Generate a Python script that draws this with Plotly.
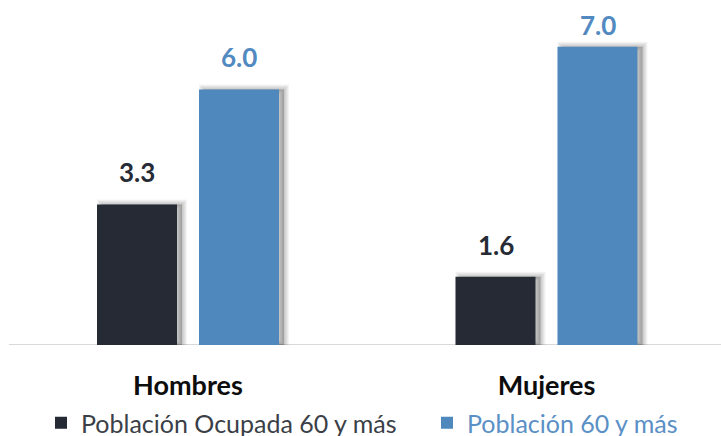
import plotly.graph_objects as go

categories = ["Hombres", "Mujeres"]
ocupada = [3.3, 1.6]
poblacion = [6.0, 7.0]
series_names = ["Población Ocupada 60 y más", "Población 60 y más"]

DARK = "#252a35"
BLUE = "#4f88bd"
FONT = "Lato"

W, H = 721, 436
PX_PER_CAT = 358.5          # pixels between category centers
BAR_W = 80 / PX_PER_CAT
OFF_DARK = -91 / PX_PER_CAT
OFF_BLUE = 11 / PX_PER_CAT
SH_DX = 5 / PX_PER_CAT

fig = go.Figure()

# soft drop shadows (same data, drawn behind)
for vals, off in [(ocupada, OFF_DARK), (poblacion, OFF_BLUE)]:
    for lw in [10, 8, 6, 4, 2]:
        fig.add_trace(go.Bar(
            x=categories, y=vals, width=BAR_W, offset=off + SH_DX,
            marker=dict(color="rgba(0,0,0,0.045)",
                        line=dict(color="rgba(0,0,0,0.045)", width=lw)),
            showlegend=False, hoverinfo="skip"))

fig.add_trace(go.Bar(
    x=categories, y=ocupada, width=BAR_W, offset=OFF_DARK,
    marker=dict(color=DARK, line=dict(width=0)), legend="legend",
    name=f'<span style="color:#3b3f48">{series_names[0]}</span>'))
fig.add_trace(go.Bar(
    x=categories, y=poblacion, width=BAR_W, offset=OFF_BLUE,
    marker=dict(color=BLUE, line=dict(width=0)), legend="legend2",
    name=f'<span style="color:#5a90c6">{series_names[1]}</span>'))

plot_h = 345
units_px = 42.6
y_max = plot_h / units_px


def label_shift(v):
    # keep the label inside the top of the chart, as in the original
    return 14 if v < y_max - 1.3 else 4


annotations = []
for cat, v in zip(categories, ocupada):
    annotations.append(dict(x=cat, y=v, text=f"{v:.1f}", showarrow=False,
                            xshift=-51, yshift=label_shift(v), yanchor="bottom",
                            font=dict(family=FONT, size=26, color="#262b36", weight="bold")))
for cat, v in zip(categories, poblacion):
    annotations.append(dict(x=cat, y=v, text=f"{v:.1f}", showarrow=False,
                            xshift=51, yshift=label_shift(v), yanchor="bottom",
                            font=dict(family=FONT, size=26, color="#5189c0", weight="bold")))

left_units = 188 / PX_PER_CAT
right_units = (W - 546.5) / PX_PER_CAT

legend_font = dict(family=FONT, size=25, color="#3b3f48")
leg_y = 1 - 400 / H
fig.update_layout(
    width=W, height=H,
    margin=dict(l=0, r=0, t=0, b=H - plot_h, pad=0),
    paper_bgcolor="white", plot_bgcolor="white",
    barmode="overlay",
    showlegend=True,
    xaxis=dict(type="category", range=[-left_units, 1 + right_units],
               showgrid=False, zeroline=False, showline=False, ticks="",
               ticklabelstandoff=22,
               tickfont=dict(family=FONT, size=27, color="#0d0d0d", weight="bold")),
    yaxis=dict(range=[0, y_max], visible=False, showgrid=False,
               zeroline=False),
    legend=dict(orientation="h", x=41 / W, xanchor="left", xref="container",
                y=leg_y, yanchor="top", yref="container", itemwidth=30,
                font=legend_font, bgcolor="rgba(0,0,0,0)"),
    legend2=dict(orientation="h", x=427 / W, xanchor="left", xref="container",
                 y=leg_y, yanchor="top", yref="container", itemwidth=30,
                 font=legend_font, bgcolor="rgba(0,0,0,0)"),
    annotations=annotations,
    shapes=[dict(type="line", xref="paper", yref="y", x0=9 / W, x1=1, y0=0, y1=0,
                 line=dict(color="#d9d9d9", width=2), layer="below")],
)

fig.write_html("out.html", config={"displayModeBar": False},
               post_script="document.body.style.margin='0';document.body.style.overflow='hidden';")
